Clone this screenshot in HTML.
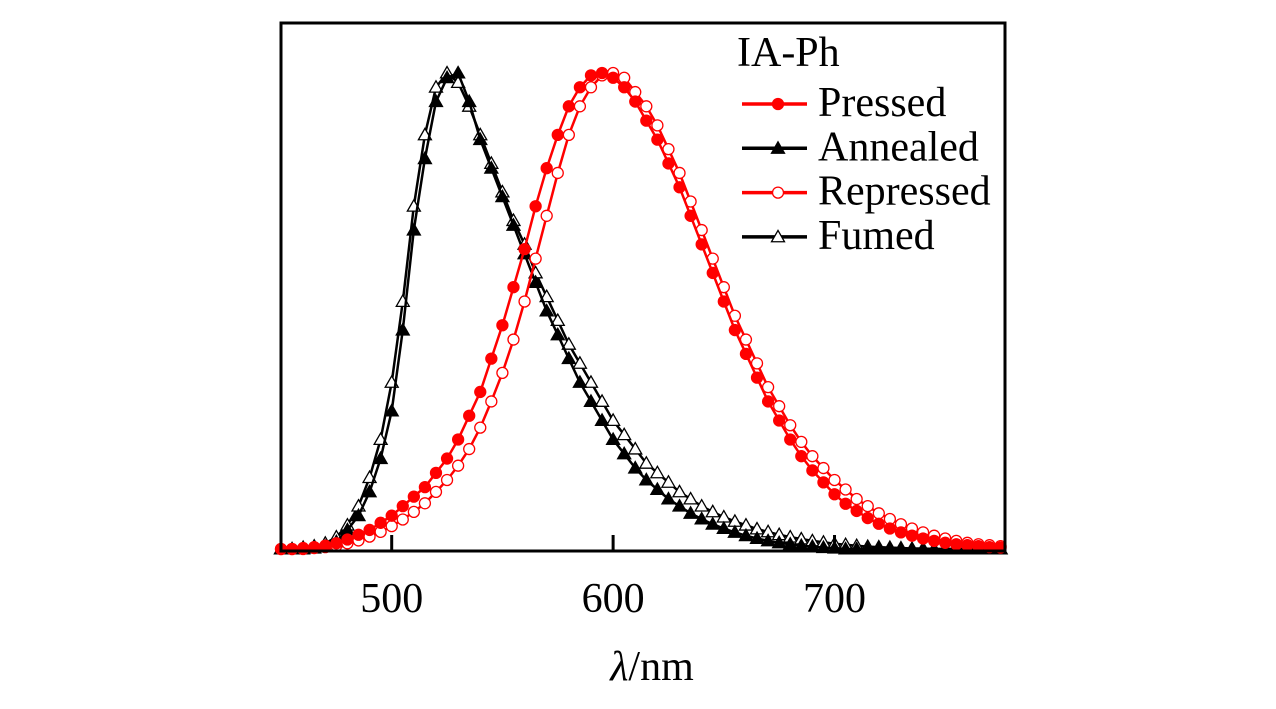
<!DOCTYPE html>
<html><head><meta charset="utf-8"><style>
html,body{margin:0;padding:0;background:#fff;}
svg{display:block;font-family:"Liberation Serif",serif;}
</style></head><body>
<svg id="chart" width="1276" height="709">
<g id="plot"></g>
<rect x="281" y="23" width="724" height="528" fill="none" stroke="#000" stroke-width="3"/>
<g id="xaxis"></g>
<text x="652" y="680" font-size="42" text-anchor="middle"><tspan font-style="italic">λ</tspan>/nm</text>
<g id="legend">
<text x="737" y="66" font-size="42">IA-Ph</text>
</g>
</svg>
<script>
const wavelengths = [];
for (let w = 450; w <= 775; w += 5) wavelengths.push(w);
const annealed = [0,0,0,0.002,0.005,0.015,0.04,0.07,0.12,0.19,0.29,0.46,0.67,0.82,0.94,0.99,1.0,0.94,0.86,0.80,0.74,0.68,0.62,0.56,0.50,0.45,0.40,0.35,0.31,0.27,0.23,0.2,0.17,0.145,0.125,0.105,0.09,0.075,0.063,0.052,0.043,0.035,0.028,0.022,0.017,0.013,0.01,0.007,0.005,0.003,0.002,0,0,0,0,0,0,0,0,0,0,0,0,0,0,0];
const fumed = [0,0,0.003,0.006,0.012,0.025,0.05,0.09,0.15,0.23,0.35,0.52,0.72,0.87,0.97,1.0,0.98,0.93,0.87,0.81,0.75,0.69,0.64,0.58,0.53,0.48,0.43,0.39,0.35,0.31,0.27,0.24,0.21,0.18,0.16,0.14,0.12,0.105,0.09,0.078,0.067,0.058,0.05,0.042,0.036,0.03,0.025,0.021,0.017,0.014,0.011,0.009,0.007,0.005,0.004,0.003,0.002,0.001,0.001,0,0,0,0,0,0,0];
const pressed = [0,0,0.002,0.004,0.007,0.012,0.02,0.03,0.04,0.055,0.07,0.09,0.11,0.13,0.16,0.19,0.23,0.28,0.33,0.40,0.47,0.55,0.63,0.72,0.80,0.87,0.93,0.97,0.995,1.0,0.99,0.97,0.94,0.90,0.86,0.81,0.76,0.70,0.64,0.58,0.52,0.46,0.41,0.36,0.31,0.27,0.23,0.195,0.165,0.14,0.115,0.095,0.08,0.065,0.053,0.043,0.035,0.028,0.022,0.017,0.013,0.01,0.008,0.006,0.004,0.003];
const repressed = [0,0,0,0.002,0.004,0.007,0.012,0.018,0.026,0.036,0.048,0.062,0.078,0.096,0.12,0.145,0.175,0.21,0.255,0.31,0.37,0.44,0.52,0.61,0.70,0.79,0.87,0.93,0.97,0.995,1.0,0.99,0.96,0.93,0.89,0.84,0.79,0.73,0.67,0.61,0.55,0.49,0.44,0.39,0.34,0.30,0.26,0.225,0.195,0.17,0.145,0.125,0.105,0.09,0.075,0.063,0.052,0.043,0.035,0.028,0.022,0.017,0.013,0.01,0.008,0.006];
const tickValues = [500, 600, 700];
const tickLabels = ["500", "600", "700"];
const seriesNames = ["Pressed", "Annealed", "Repressed", "Fumed"];

const NS = "http://www.w3.org/2000/svg";
const X0 = 450, X1 = 777, PX0 = 281, PX1 = 1005;
const xs = w => PX0 + (w - X0) / (X1 - X0) * (PX1 - PX0);
const ys = v => 549 - v * 476;
function mk(tag, attrs, parent) {
  const e = document.createElementNS(NS, tag);
  for (const k in attrs) e.setAttribute(k, attrs[k]);
  parent.appendChild(e);
  return e;
}
function marker(parent, type, color, filled, x, y) {
  let e;
  if (type === "circle") {
    e = mk("circle", {cx: x, cy: y, r: 5.5, fill: filled ? color : "#fff", stroke: color, "stroke-width": 1.3}, parent);
  } else {
    const s = 6.5;
    e = mk("polygon", {points: `${x},${y - s} ${x - s},${y + s * 0.75} ${x + s},${y + s * 0.75}`, fill: filled ? color : "#fff", stroke: color, "stroke-width": 1.3}, parent);
  }
  return e;
}
const plot = document.getElementById("plot");
const defs = [
  {data: fumed, color: "#000", type: "tri", filled: false, name: "fumed"},
  {data: annealed, color: "#000", type: "tri", filled: true, name: "annealed"},
  {data: repressed, color: "#f00", type: "circle", filled: false, name: "repressed"},
  {data: pressed, color: "#f00", type: "circle", filled: true, name: "pressed"}
];
defs.forEach(d => {
  const g = mk("g", {}, plot);
  
  
  const pts = d.data.map((v, i) => xs(wavelengths[i]).toFixed(1) + "," + ys(v).toFixed(1)).join(" ");
  const line = mk("polyline", {points: pts, fill: "none", stroke: d.color, "stroke-width": 2.5}, g);
  
  
  d.data.forEach((v, i) => {
    if (wavelengths[i] > X1) return;
    const m = marker(g, d.type, d.color, d.filled, xs(wavelengths[i]), ys(v));
    
    
  });
});
const xaxis = document.getElementById("xaxis");
tickValues.forEach((t, i) => {
  const x = xs(t);
  const tk = mk("line", {x1: x, x2: x, y1: 551, y2: 535, stroke: "#000", "stroke-width": 3}, xaxis);
  
  
  const lb = mk("text", {x: x, y: 612, "font-size": 42, "text-anchor": "middle"}, xaxis);
  lb.textContent = tickLabels[i];
  
  
});
const legend = document.getElementById("legend");
const legDefs = [
  {color: "#f00", type: "circle", filled: true},
  {color: "#000", type: "tri", filled: true},
  {color: "#f00", type: "circle", filled: false},
  {color: "#000", type: "tri", filled: false}
];
seriesNames.forEach((n, i) => {
  const y = 104 + i * 44.3;
  const g = mk("g", {}, legend);
  
  
  mk("line", {x1: 742, x2: 807, y1: y, y2: y, stroke: legDefs[i].color, "stroke-width": 3.5}, g);
  marker(g, legDefs[i].type, legDefs[i].color, legDefs[i].filled, 778, y);
  const t = mk("text", {x: 818, y: y + 12, "font-size": 42}, g);
  t.textContent = n;
});
</script>
</body></html>
